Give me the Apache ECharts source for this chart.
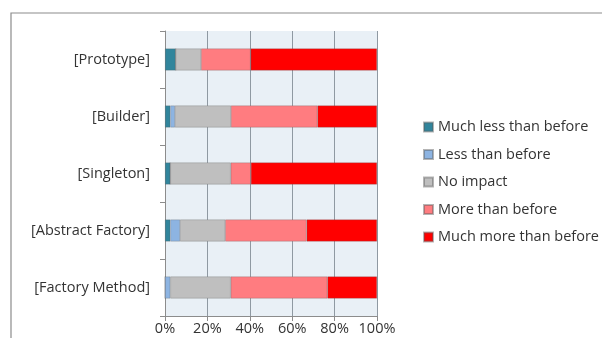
<!DOCTYPE html>
<html>
<head>
<meta charset="utf-8">
<script src="https://cdn.jsdelivr.net/npm/echarts@6/dist/echarts.min.js"></script>
<style>
  html, body { margin: 0; padding: 0; background: #fff; }
  #chart { width: 602px; height: 338px; }
</style>
</head>
<body>
<div id="chart"></div>
<script>
// categories listed bottom to top
var categories = ['[Factory Method]', '[Abstract Factory]', '[Singleton]', '[Builder]', '[Prototype]'];
var seriesNames = ['Much less than before', 'Less than before', 'No impact', 'More than before', 'Much more than before'];
var muchLess = [0, 2.5, 2.5, 2.5, 5];
var less = [2.5, 4.6, 0, 2.2, 0];
var noImpact = [28.5, 21.3, 28.5, 26.4, 12];
var more = [45.6, 38.4, 9.5, 40.8, 23.4];
var muchMore = [23.4, 33.2, 59.5, 28.1, 59.6];
var colors = ['#31859c', '#8db4e2', '#bfbfbf', '#ff7c80', '#ff0000'];
var xTicks = [0, 20, 40, 60, 80, 100];

var values = [muchLess, less, noImpact, more, muchMore];

var chart = echarts.init(document.getElementById('chart'));

var series = seriesNames.map(function (name, i) {
  return {
    name: name,
    type: 'bar',
    stack: 'total',
    barWidth: 22,
    data: values[i],
    itemStyle: { color: colors[i], borderColor: 'rgba(90,90,90,0.45)', borderWidth: 0.6 },
    emphasis: { disabled: true }
  };
});

var option = {
  animation: false,
  textStyle: { fontFamily: 'Open Sans' },
  graphic: [{
    type: 'rect',
    shape: { x: 11, y: 13, width: 600, height: 340 },
    style: { fill: 'none', stroke: '#8c8c8c', lineWidth: 1.2 },
    silent: true
  }],
  grid: {
    left: 165, right: 225, top: 31, bottom: 22,
    show: true, backgroundColor: '#e9f0f6', borderWidth: 0
  },
  legend: {
    orient: 'vertical',
    left: 418, top: 114,
    itemWidth: 9, itemHeight: 9,
    itemGap: 11.5,
    icon: 'rect',
    textStyle: { fontSize: 14.5, color: '#333', lineHeight: 16, fontFamily: 'Open Sans' },
    data: seriesNames
  },
  xAxis: {
    type: 'value',
    min: 0, max: 100, interval: 20,
    axisLine: { show: true, lineStyle: { color: '#8c8c8c' } },
    axisTick: { show: true, length: 5, lineStyle: { color: '#8c8c8c' } },
    splitLine: { show: true, lineStyle: { color: '#8f99a2' } },
    axisLabel: {
      fontSize: 14.5, color: '#333', margin: 5,
      formatter: function (v) { return xTicks.indexOf(v) >= 0 ? v + '%' : ''; }
    }
  },
  yAxis: {
    type: 'category',
    data: categories,
    axisLine: { show: true, lineStyle: { color: '#8c8c8c' } },
    axisTick: { show: true, length: 5, lineStyle: { color: '#8c8c8c' } },
    axisLabel: { fontSize: 14.5, color: '#333', margin: 15 }
  },
  series: series
};

chart.setOption(option);
</script>
</body>
</html>
